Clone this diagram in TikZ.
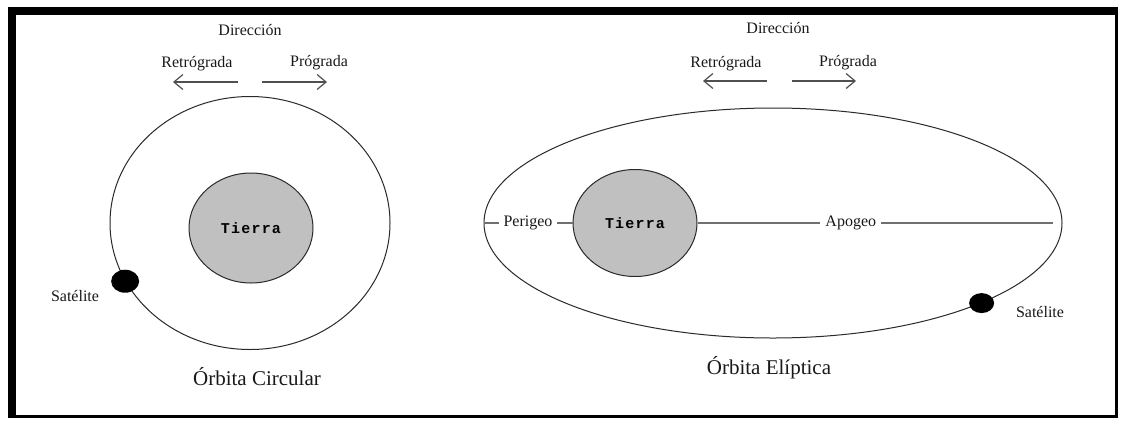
\documentclass[tikz,border=0pt]{standalone}
\usepackage{fontspec}
\setmainfont{Liberation Serif}
\setmonofont{Liberation Mono}
\usepackage{tikz}
\usetikzlibrary{arrows.meta,positioning,shapes.geometric}
\definecolor{orbline}{HTML}{2A2A2A}
\definecolor{earthgray}{HTML}{C0C0C0}
\definecolor{arrowgray}{HTML}{505050}
\definecolor{axisgray}{HTML}{707070}
\tikzset{
  orbit/.style={ellipse, draw=orbline, line width=1pt, inner sep=0pt},
  earth/.style={ellipse, draw=orbline, fill=earthgray, line width=1pt,
    inner sep=0pt,
    font=\fontsize{15}{17}\selectfont\ttfamily\bfseries\addfontfeature{LetterSpace=8}},
  sat/.style={ellipse, fill=black, inner sep=0pt},
  lbl/.style={font=\fontsize{16}{18}\selectfont, text=black!90, inner sep=1pt},
  title/.style={font=\fontsize{21}{24}\selectfont, text=black!90},
  dirarrow/.style={-{Straight Barb[length=9pt,width=15pt]}, line width=1.2pt,
    color=arrowgray},
  axisline/.style={line width=1.4pt, color=axisgray},
  cutlbl/.style={lbl, fill=white, inner xsep=5pt},
}
\begin{document}
\begin{tikzpicture}[x=1pt, y=-1pt]
  \useasboundingbox (0,0) rectangle (1124,421);
  \fill[white] (0,0) rectangle (1124,421);

  % frame, heavy on top and left
  \fill[black] (8,7) rectangle (1118,418);
  \fill[white] (16,15) rectangle (1115,415);

  % ---- circular orbit ----
  \node[orbit, minimum width=280pt, minimum height=253pt] (orbC) at (250,223) {};
  \node[earth, minimum width=124pt, minimum height=110pt] (tC) at (251,228) {Tierra};
  \node[sat, minimum width=28pt, minimum height=23pt] (satC) at (orbC.205.4) {};
  \node[lbl] (satClbl) at (75,296) {Satélite};
  \node[title] (titC) at (257,377) {Órbita Circular};

  % direction
  \node[lbl] (dirC) at (250,30) {Dirección};
  \node[lbl] (retC) at (197,64) {Retrógrada};
  \node[lbl] (proC) at (319,63) {Prógrada};
  \coordinate (retCa) at (238,82);
  \coordinate (retCb) at (173,82);
  \coordinate (proCa) at (262,82);
  \coordinate (proCb) at (327,82);
  \draw[dirarrow] (retCa) -- (retCb);
  \draw[dirarrow] (proCa) -- (proCb);

  % ---- elliptic orbit ----
  \node[orbit, minimum width=578pt, minimum height=230pt] (orbE) at (773,223) {};
  \node[earth, minimum width=124pt, minimum height=107pt] (tE) at (635,223) {Tierra};
  \node[sat, minimum width=25pt, minimum height=20pt] (satE) at (orbE.339) {};
  \node[lbl] (satElbl) at (1040,312) {Satélite};
  \node[title] (titE) at (769,368) {Órbita Elíptica};

  \draw[axisline] (orbE.west) -- node[cutlbl] {Perigeo} (tE.west);
  \draw[axisline, shorten >=10pt] (tE.east) -- node[cutlbl, pos=0.42] {Apogeo} (orbE.east);

  % direction
  \node[lbl] (dirE) at (778,28) {Dirección};
  \node[lbl] (retE) at (726,64) {Retrógrada};
  \node[lbl] (proE) at (848,63) {Prógrada};
  \coordinate (retEa) at (767,81);
  \coordinate (retEb) at (703,81);
  \coordinate (proEa) at (792,81);
  \coordinate (proEb) at (856,81);
  \draw[dirarrow] (retEa) -- (retEb);
  \draw[dirarrow] (proEa) -- (proEb);
\end{tikzpicture}
\end{document}
